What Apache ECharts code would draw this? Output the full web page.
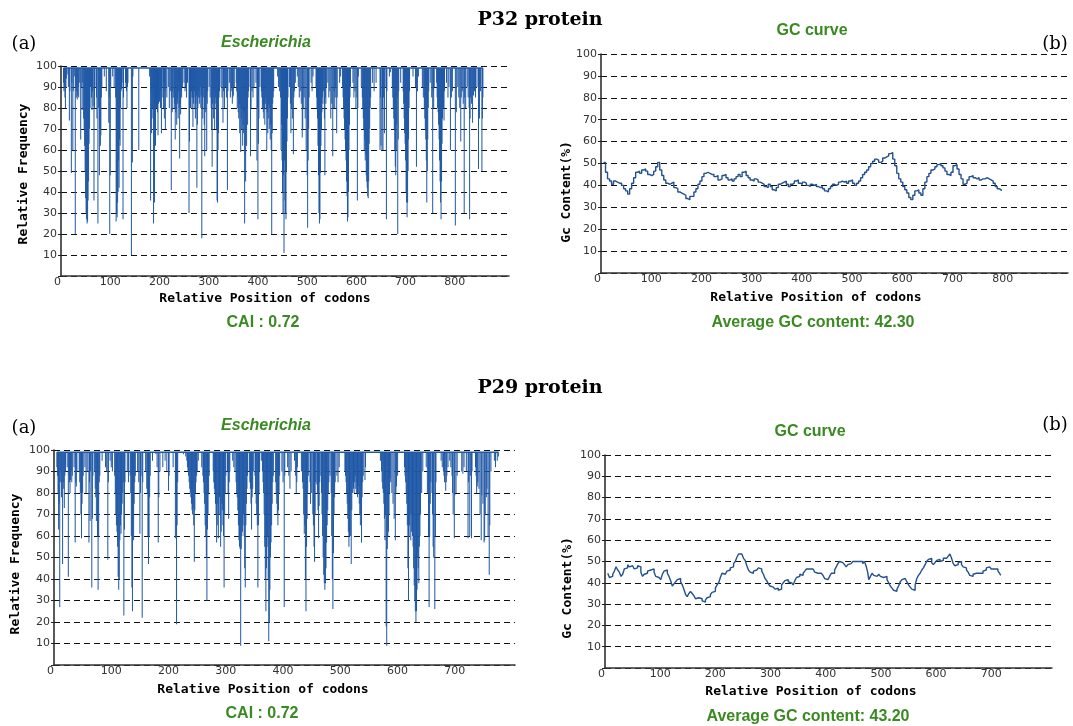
<!DOCTYPE html>
<html>
<head>
<meta charset="utf-8">
<title>P32 / P29 codon usage</title>
<script src="https://cdn.jsdelivr.net/npm/echarts@6.0.0/dist/echarts.min.js"></script>
<style>
html,body{margin:0;padding:0;background:#fff;}
#main{width:1073px;height:726px;}
</style>
</head>
<body>
<div id="main"></div>
<script>
// P32 - relative frequency of codons, [codon, value] (bar hangs from top line down to value)
let p32Bars = [
[5,92],[6,88],[7,90],[8,85],[9,80],[10,90],[11,94],[14,96],[15,90],[17,74],[18,88],[21,49],[22,92],[24,60],[25,88],[27,95],[29,20],[30,90],[31,85],[32,88],[33,84],[34,86],[35,90],[36,85],[38,92],[40,65],[41,90],[43,79],[44,92],
[46,75],[47,70],[48,62],[49,50],[50,37],[51,30],[52,27],[53,25],[54,26],[55,36],[56,45],[57,63],[58,70],[59,80],[60,90],
[62,85],[63,79],[64,88],[65,81],[67,36],[68,80],[69,90],[72,85],[73,75],[75,25],[76,80],[78,48],[79,70],[80,62],[81,67],[82,85],[83,90],[88,95],[92,88],
[97,73],[98,85],[99,20],[100,48],[101,90],[105,95],[108,90],
[111,85],[112,26],[113,30],[114,28],[115,35],[116,40],[117,55],[118,42],[119,65],[120,62],[121,80],[122,88],[123,89],[124,92],[126,27],[127,85],
[131,92],[132,90],[133,88],[134,80],[135,90],[136,92],[143,10],[145,54],[146,95],[158,60],
[180,95],[182,36],[183,88],[184,68],[185,75],[186,80],[187,90],[188,25],[189,80],[190,35],[191,70],[192,62],[193,85],[194,80],[195,88],[196,78],[197,67],[198,82],[199,85],[200,83],[202,80],[203,88],[204,68],[205,90],
[207,85],[208,80],[209,92],[210,75],[211,88],[212,70],[213,90],[215,85],[218,90],[220,80],[222,88],[224,41],[225,85],[226,78],[227,88],
[229,85],[230,80],[231,82],[232,65],[233,78],[234,80],[235,72],[236,85],[237,82],[238,75],[239,88],[240,80],[241,56],[242,82],[243,77],[244,88],[245,85],[247,90],
[250,92],[252,88],[253,90],[255,85],[257,92],
[260,30],[261,64],[262,82],[263,80],[264,85],[265,88],[266,80],[267,85],[268,71],[269,82],[270,85],[271,88],[272,80],[273,75],[274,82],[275,86],[276,42],[277,72],[278,80],[279,85],[280,88],[281,82],[282,85],[283,90],[284,80],[285,86],[286,18],[287,80],[288,75],[289,85],[290,90],[291,72],[292,57],[293,80],[294,78],[295,85],[296,60],[297,82],[298,88],
[301,90],[303,85],[305,80],[306,70],[307,52],[308,82],[309,85],[310,75],[311,88],[312,70],[313,82],[314,85],[315,80],[316,70],[317,36],[318,35],[319,60],[320,68],[321,85],[322,88],
[325,90],[327,85],[329,73],[330,88],[332,80],[334,90],[336,85],[338,41],[339,88],[342,92],[344,85],[346,90],[347,88],[348,82],[349,85],[350,86],[352,90],
[356,92],[357,88],[358,80],[359,85],[360,78],[361,75],[362,82],[363,68],[364,80],[365,59],[366,75],[367,70],[368,80],[369,62],[370,72],[371,68],[372,78],[373,25],[374,58],[375,45],[376,70],[377,62],[378,80],[379,72],[380,85],[381,88],
[384,90],[385,57],[386,80],[388,88],[390,85],[392,90],[396,92],[398,55],[399,80],[400,27],[401,63],[402,75],[404,90],
[407,88],[408,85],[409,80],[410,82],[411,78],[412,75],[413,80],[414,72],[415,82],[416,85],[417,80],[418,60],[419,78],[420,68],[421,75],[422,82],[423,70],[424,80],[425,65],[426,72],[427,60],[428,20],[429,68],[430,82],[431,85],[432,88],
[440,95],[442,90],[444,88],[446,85],[447,60],[448,72],[449,55],[450,40],[451,30],[452,48],[453,11],[454,55],[455,36],[456,30],[457,27],[458,50],[459,64],[460,75],[461,85],
[464,90],[466,82],[467,68],[468,80],[470,75],[472,58],[473,85],[474,88],[476,92],
[480,95],[482,90],[484,85],[486,88],[488,82],[490,66],[491,70],[492,80],[494,85],[496,75],[498,60],[500,48],[501,23],[502,55],[503,70],[504,85],[508,92],[510,88],[512,95],
[518,90],[519,85],[520,80],[521,75],[522,62],[523,48],[524,30],[525,25],[526,27],[527,49],[528,62],[529,70],[530,78],[531,85],[532,82],[533,88],[535,75],[536,48],[537,85],[538,82],[539,90],
[542,92],[544,85],[546,88],[548,75],[550,82],[552,57],[553,80],[555,88],[556,80],[557,85],[558,90],[560,68],[561,85],[566,92],[568,95],
[572,90],[573,85],[574,80],[575,75],[576,70],[577,65],[578,60],[579,55],[580,45],[581,38],[582,26],[583,28],[584,40],[585,60],[586,72],[587,85],[588,90],
[593,92],[595,85],[597,88],[599,80],[601,85],[602,36],[603,80],[604,95],
[610,90],[612,85],[613,80],[614,75],[615,70],[616,60],[617,65],[618,55],[619,58],[620,48],[621,45],[622,42],[623,38],[624,37],[625,45],[626,63],[627,70],[628,80],[629,85],
[633,92],[636,88],[640,92],[648,60],[649,85],[650,62],[652,60],[653,80],[654,60],[655,85],[657,68],[660,90],[661,27],[662,88],[667,95],[669,97],
[673,90],[674,85],[675,80],[676,75],[677,70],[678,60],[679,52],[680,48],[681,60],[682,72],[683,85],[684,20],[685,65],[686,88],[690,92],
[695,88],[696,82],[697,75],[698,68],[699,63],[700,55],[701,40],[702,35],[703,28],[704,35],[705,50],[706,65],[707,80],[708,88],
[715,95],[720,90],[722,52],[724,88],[726,95],
[734,90],[736,85],[738,80],[739,75],[740,70],[741,65],[742,55],[743,35],[744,50],[745,65],[746,80],[747,88],[750,92],[753,85],[755,30],[756,88],[757,80],[758,90],
[763,92],[764,85],[765,80],[766,78],[767,72],[768,65],[769,55],[770,45],[771,35],[772,27],[773,45],[774,63],[775,75],[776,85],[777,80],[778,74],[779,88],
[783,92],[786,85],[788,90],[791,60],[793,85],[795,88],[801,24],[803,78],
[806,90],[808,85],[810,80],[812,64],[813,85],[815,88],[817,82],[819,30],[820,85],[822,80],
[825,90],[827,85],[829,80],[830,27],[831,75],[832,85],[834,82],[836,73],[838,86],[840,88],[842,85],[845,90],[848,51],[850,75],[852,88],[855,50],[856,75],[857,85]
]
let p32Span = [5, 857]

// P29 - relative frequency of codons
let p29Bars = [
[5,92],[6,88],[7,80],[8,63],[9,75],[10,27],[11,85],[12,90],[13,78],[15,47],[16,85],[17,82],[18,73],[19,88],[20,90],
[23,92],[25,41],[26,88],[27,85],[28,80],[29,86],[30,90],[31,85],[32,88],[35,92],[37,57],[38,85],[39,83],[40,90],
[44,90],[45,85],[46,80],[47,70],[48,59],[49,75],[50,80],[51,88],[54,92],[56,80],[58,90],[61,57],[62,85],[63,67],[64,90],[66,36],[67,68],[68,88],
[71,90],[72,82],[73,78],[74,67],[75,80],[76,60],[77,35],[78,60],[79,85],[80,88],[84,95],[90,92],[92,90],[94,49],[95,85],[98,95],[100,92],[102,90],
[106,88],[107,80],[108,70],[109,65],[110,62],[111,55],[112,41],[113,35],[114,40],[115,58],[116,65],[117,61],[118,70],[119,75],[120,80],[121,85],[122,23],[123,63],[124,85],
[128,90],[130,85],[133,88],[134,80],[135,60],[136,36],[137,25],[138,67],[139,58],[140,75],[141,85],[142,88],
[146,90],[148,85],[150,61],[151,80],[152,88],[154,22],[155,85],[160,90],[162,82],[163,80],[164,60],[165,47],[166,60],[167,78],[168,88],
[172,95],[178,98],[180,92],[182,57],[183,78],[185,90],[190,92],[194,95],[197,90],[200,81],[201,88],[208,92],[212,59],[213,80],[214,19],[215,65],[216,85],
[226,98],[230,97],[232,95],[233,92],[234,90],[235,88],[236,85],[237,82],[238,80],[239,78],[240,75],[241,72],[242,70],[243,73],[244,65],[245,48],[246,72],[247,80],[248,85],[249,88],[250,90],[252,95],
[258,92],[260,88],[261,85],[262,80],[263,75],[264,65],[265,60],[266,50],[267,30],[268,63],[269,70],[270,80],[271,88],
[278,90],[279,85],[280,82],[281,80],[282,75],[283,70],[284,57],[285,65],[286,75],[287,59],[288,70],[289,78],[290,70],[291,55],[292,62],[293,75],[294,72],[295,65],[296,60],[297,36],[298,70],[299,80],[300,88],
[303,90],[304,80],[305,68],[306,85],[307,90],
[312,95],[314,92],[316,90],[318,85],[319,80],[320,78],[321,72],[322,65],[323,58],[324,55],[325,54],[326,9],[327,54],[328,60],[329,62],[330,65],[331,70],[332,60],[333,45],[334,36],[335,65],[336,75],[337,82],[338,88],
[341,90],[342,85],[343,82],[344,75],[345,63],[346,78],[347,82],[348,90],[351,88],[352,80],[353,75],[354,70],[355,65],[356,36],[357,65],[358,80],[359,90],
[362,95],[364,90],[365,85],[366,80],[367,70],[368,55],[369,40],[370,25],[371,45],[372,55],[373,60],[374,40],[375,11],[376,20],[377,35],[378,50],[379,57],[380,65],[381,75],[382,85],[383,88],
[387,85],[388,80],[389,75],[390,70],[391,65],[392,72],[393,80],[394,88],[398,90],[400,85],[402,27],[403,88],[408,92],[410,88],[412,82],[414,90],[420,95],[422,88],[423,80],[424,85],[425,92],
[432,90],[434,85],[435,82],[436,70],[437,61],[438,65],[439,40],[440,25],[441,55],[442,68],[443,80],[444,88],
[447,85],[448,75],[450,80],[452,70],[453,65],[454,55],[455,48],[456,70],[457,85],[459,84],[460,80],[461,72],[462,59],[463,74],[464,85],
[466,88],[467,80],[468,70],[469,60],[470,50],[471,42],[472,38],[473,35],[474,38],[475,45],[476,57],[477,65],[478,72],[479,80],[480,85],
[482,88],[484,80],[485,60],[486,40],[487,26],[488,52],[489,70],[490,78],[491,85],[494,88],[496,85],[498,92],
[508,90],[509,88],[510,85],[511,80],[512,75],[513,68],[514,62],[515,55],[516,60],[517,72],[518,60],[519,47],[520,72],[521,80],[522,85],[523,82],[524,80],[525,85],[526,88],[527,82],[528,80],[529,85],[530,78],[531,83],[532,80],[533,75],[534,70],[535,65],[536,70],[537,57],[538,78],[539,85],[540,88],
[543,86],[544,92],
[570,95],[572,90],[573,85],[574,82],[575,80],[576,75],[577,68],[578,58],[579,70],[580,18],[581,9],[582,54],[583,60],[584,62],[585,70],[586,80],[587,87],[588,85],[590,80],[592,75],[594,68],[596,58],[597,80],[598,83],[600,88],
[612,92],[613,88],[614,85],[615,80],[616,75],[617,65],[618,45],[619,30],[620,60],[621,65],[622,70],[623,58],[624,62],[625,70],[626,60],[627,55],[628,45],[629,37],[630,30],[631,25],[632,20],[633,25],[634,35],[635,50],[636,45],[637,38],[638,55],[639,60],[640,70],[642,80],[644,90],
[650,92],[652,80],[654,60],[655,27],[656,60],[657,75],[658,85],[660,80],[661,70],[662,55],[663,50],[665,26],[666,60],[667,85],
[676,95],[678,92],[680,90],[681,88],[682,85],[684,81],[685,85],[686,88],[688,92],
[691,95],[693,92],[695,88],[696,80],[697,70],[699,59],[700,79],[702,80],[704,88],[712,90],[714,89],[716,92],
[720,90],[723,59],[724,85],[726,60],[727,88],[729,59],[730,90],
[736,92],[737,88],[738,80],[739,83],[740,85],[742,82],[744,70],[746,58],[747,79],[749,75],[751,57],[752,58],[753,70],[755,78],[756,82],[758,60],[760,42],[761,65],[763,90],
[769,95],[771,92],[774,95],[776,97]
]
let p29Span = [5, 776]

// GC curve P32, [codon, GC%]
let gc32 = [
[5,50.5],[9,46],[13,43],[17,42],[21,40.5],[25,42],[29,41.5],[33,41],[37,41],[41,40],[45,38.5],[49,37.5],[53,36],[57,38.5],[61,41],[65,43.5],[69,46],[73,46.5],[77,45.5],[81,47],[85,47.5],[89,46.5],[93,45],[97,44.5],
[101,45],[105,46.5],[109,48.5],[113,50.5],[117,47],[121,44.5],[125,42.5],[129,41],[133,40.5],[137,41],[141,41.5],[145,39],[149,38.5],[153,37],[157,36.5],[161,36],[165,35.5],[169,34],[173,33.5],[177,35],[181,35],[185,37],[189,38.5],[193,40.5],[197,42],
[201,44],[205,45.5],[209,46],[213,45.5],[217,45],[221,45],[225,44],[229,44.5],[233,42.5],[237,43],[241,44.5],[245,45],[249,43.5],[253,42.5],[257,43],[261,42],[265,43],[269,44],[273,45],[277,44],[281,46],[285,46.5],[289,44.5],[293,43.5],[297,42.5],
[301,42],[305,43],[309,42.5],[313,41.5],[317,41],[321,40.5],[325,39.5],[329,39],[333,40.5],[337,39.5],[341,38],[345,37.5],[349,39],[353,40.5],[357,41],[361,41.5],[365,42],[369,40.5],[373,39.5],[377,40.5],[381,41],[385,42],[389,42.5],[393,41],[397,40.5],
[401,41.5],[405,41],[409,40],[413,39.5],[417,40.5],[421,40],[425,40.5],[429,39.5],[433,39],[437,39.5],[441,38.5],[445,37.5],[449,37],[453,38.5],[457,39.5],[461,40.5],[465,40],[469,40.5],[473,41.5],[477,42],[481,41.5],[485,42],[489,41],[493,42],[497,42.5],
[501,41],[505,40],[509,41],[513,42],[517,43.5],[521,45],[525,46],[529,47],[533,48.5],[537,50],[541,51],[545,52],[549,51.5],[553,50.5],[557,51],[561,52.5],[565,53],[569,53.5],[573,54.5],[577,55],[581,52],[585,49],[589,45.5],[593,43],[597,41.5],
[601,39.5],[605,38],[609,36.5],[613,34.5],[617,33.5],[621,35.5],[625,37.5],[629,38],[633,36.5],[637,35.5],[641,38.5],[645,41.5],[649,44],[653,45.5],[657,47],[661,47.5],[665,48.5],[669,49.5],[673,50],[677,49],[681,48],[685,46.5],[689,45],[693,44.5],[697,46],
[701,49],[705,49.5],[709,47.5],[713,45],[717,43],[721,40.5],[725,41],[729,42.5],[733,44],[737,44.5],[741,43.5],[745,43],[749,43.5],[753,42.5],[757,43],[761,43],[765,43.5],[769,43],[773,42.5],[777,42],[781,41],[785,39.5],[789,38.5],[793,38],[797,37.5]
]

// GC curve P29
let gc29 = [
[5,44.5],[8,42.5],[11,43],[14,44],[17,45.5],[20,47.5],[23,46],[26,45],[29,43],[32,44],[35,46.5],[38,47],[41,48.5],[44,47.5],[47,48],[50,47.5],[53,46.5],[56,47],[59,48],[62,47.5],[65,45],[68,43],[71,44],[74,44.5],[77,45.5],[80,46],[83,45.5],[86,46.5],[89,45],[92,43],[95,42.5],[98,42],
[101,41.5],[104,44],[107,45.5],[110,46],[113,44.5],[116,43],[119,41],[122,38.5],[125,39.5],[128,40.5],[131,41.5],[134,42],[137,40.5],[140,39],[143,37],[146,34.5],[149,33.5],[152,35],[155,36],[158,35],[161,34],[164,32.5],[167,33],[170,33.5],[173,32.5],[176,31.5],[179,31],[182,32],[185,33],[188,33.5],[191,34.5],[194,35.5],[197,36],
[200,37.5],[203,39],[206,40],[209,42.5],[212,44.5],[215,44],[218,43.5],[221,45.5],[224,46],[227,47],[230,47.5],[233,49],[236,50],[239,52],[242,53.5],[245,53.5],[248,53],[251,51.5],[254,50.5],[257,48],[260,46],[263,45],[266,44.5],[269,45.5],[272,46],[275,46.5],[278,47],[281,46.5],[284,45.5],[287,44],[290,42],[293,41],[296,39.5],[299,38.5],
[302,38],[305,37.5],[308,37],[311,37.5],[314,36.5],[317,37],[320,39],[323,40],[326,41],[329,41.5],[332,40.5],[335,40],[338,39.5],[341,39],[344,41],[347,42.5],[350,43],[353,44],[356,43.5],[359,44.5],[362,45.5],[365,46.5],[368,46.5],[371,47],[374,46.5],[377,46],[380,45],[383,44.5],[386,45],[389,44.5],[392,44],[395,43.5],[398,42],
[401,41.5],[404,42],[407,43],[410,44.5],[413,44.5],[416,46],[419,47.5],[422,49],[425,50],[428,49.5],[431,49.5],[434,48.5],[437,47.5],[440,48.5],[443,49],[446,49.5],[449,50],[452,50],[455,49.5],[458,50],[461,50],[464,50],[467,49],[470,50],[473,48],[476,45],[478,41.5],[481,43],[484,44.5],[487,43.5],[490,43],[493,43.5],[496,44],[499,43],
[502,42.5],[505,42.5],[508,43],[511,41.5],[514,40],[517,38.5],[520,37.5],[523,36.5],[526,36],[529,37],[532,38.5],[535,40.5],[538,41.5],[541,42],[544,41.5],[547,40.5],[550,39],[553,38],[556,37],[559,36.5],[562,39],[565,42],[568,43.5],[571,44.5],[574,46],[577,47],[580,48.5],[583,50],[586,51],[589,51.5],[592,49.5],[595,48.5],[598,49.5],
[601,50.5],[604,51],[607,50],[610,50.5],[613,51.5],[616,51.5],[619,52],[622,52.5],[625,53.5],[628,51.5],[631,49],[634,48],[637,48.5],[640,49.5],[643,50],[646,48.5],[649,47.5],[652,47],[655,46],[658,45],[661,43.5],[664,43],[667,44],[670,44.5],[673,45],[676,44.5],[679,44],[682,44.5],[685,45.5],[688,46],[691,47],[694,47.5],[697,47],
[700,46.5],[703,46.5],[706,46],[709,46.5],[712,45.5],[715,44.5],[717,43.5]
]

let topLine = 99
let xMax = [910, 930, 805, 810]
// last labelled tick of each x axis
let xLastLabel = [800, 800, 700, 700]
let barColor = '#1f58a6'
let gcColor = '#23518e'
let green = '#3a8a22'

let mainChart = echarts.init(document.getElementById('main'))

// bars hanging from the top line down to the value
function hangBar(params, api){
    let x = api.value(0), v = api.value(1)
    let low = api.coord([x, v])
    let high = api.coord([x, topLine])
    let w = Math.max(1, api.size([1, 0])[0])
    return {
        type: 'rect',
        shape: {x: low[0] - w / 2, y: high[1], width: w, height: low[1] - high[1]},
        style: {fill: barColor}
    }
}

function xAxisOf(i){
    return {
        type: 'value',
        gridIndex: i,
        min: 0,
        max: xMax[i],
        interval: 100,
        axisLine: {lineStyle: {color: '#333', width: 1.5}},
        axisTick: {show: false},
        splitLine: {show: false},
        axisLabel: {
            color: '#333',
            fontFamily: 'DejaVu Sans',
            fontSize: 11,
            margin: 1,
            alignMinLabel: 'right',
            showMaxLabel: false,
            formatter: function(v){ return v > xLastLabel[i] ? '' : v }
        }
    }
}

function yAxisOf(i){
    return {
        type: 'value',
        gridIndex: i,
        min: 0,
        max: 100,
        interval: 10,
        axisLine: {show: true, lineStyle: {color: '#222', width: 1.5}},
        axisTick: {show: true, length: 3, lineStyle: {color: '#222'}},
        axisLabel: {
            color: '#333',
            fontFamily: 'DejaVu Sans',
            fontSize: 11,
            margin: 4,
            formatter: function(v){ return v == 0 ? '' : v }
        },
        splitLine: {lineStyle: {color: '#111', type: [6, 4], width: 1.2}}
    }
}

function txt(text, x, y, font, color, rot){
    return {
        type: 'text',
        x: x,
        y: y,
        rotation: rot || 0,
        style: {text: text, font: font, fill: color || '#000', align: 'center', verticalAlign: 'middle'}
    }
}

let serifBold = 'bold 19px "DejaVu Serif"'
let serif = '18px "DejaVu Serif"'
let greenFont = 'bold 16px "Liberation Sans"'
let greenItalic = 'italic bold 16px "Liberation Sans"'
let mono = 'bold 13px "DejaVu Sans Mono"'

let mainOption = {
    animation: false,
    backgroundColor: '#fff',
    grid: [
        {left: 61, top: 66, width: 448, height: 210},
        {left: 601, top: 54, width: 467, height: 219},
        {left: 54, top: 450, width: 461, height: 215},
        {left: 605, top: 455, width: 447, height: 213}
    ],
    xAxis: [xAxisOf(0), xAxisOf(1), xAxisOf(2), xAxisOf(3)],
    yAxis: [yAxisOf(0), yAxisOf(1), yAxisOf(2), yAxisOf(3)],
    series: [
        {
            type: 'custom',
            xAxisIndex: 0,
            yAxisIndex: 0,
            renderItem: hangBar,
            clip: true,
            data: p32Bars
        },
        {
            type: 'line',
            xAxisIndex: 0,
            yAxisIndex: 0,
            symbol: 'none',
            lineStyle: {color: barColor, width: 1.5},
            data: [[p32Span[0], topLine], [p32Span[1], topLine]]
        },
        {
            type: 'line',
            xAxisIndex: 1,
            yAxisIndex: 1,
            symbol: 'none',
            step: 'end',
            lineStyle: {color: gcColor, width: 1.4},
            data: gc32
        },
        {
            type: 'custom',
            xAxisIndex: 2,
            yAxisIndex: 2,
            renderItem: hangBar,
            clip: true,
            data: p29Bars
        },
        {
            type: 'line',
            xAxisIndex: 2,
            yAxisIndex: 2,
            symbol: 'none',
            lineStyle: {color: barColor, width: 1.5},
            data: [[p29Span[0], topLine], [p29Span[1], topLine]]
        },
        {
            type: 'line',
            xAxisIndex: 3,
            yAxisIndex: 3,
            symbol: 'none',
            step: 'end',
            lineStyle: {color: gcColor, width: 1.4},
            data: gc29
        }
    ],
    graphic: [
        // P32
        txt('P32 protein', 540, 20, serifBold),
        txt('(a)', 24, 44, serif),
        txt('(b)', 1055, 44, serif),
        txt('Escherichia', 266, 43, greenItalic, green),
        txt('CAI : 0.72', 263, 323, greenFont, green),
        txt('Relative Position of codons', 265, 299, mono),
        txt('Relative Frequency', 24, 174, mono, '#000', Math.PI / 2),
        txt('GC curve', 812, 31, greenFont, green),
        txt('Average GC content: 42.30', 813, 323, greenFont, green),
        txt('Relative Position of codons', 816, 298, mono),
        txt('Gc Content(%)', 567, 192, mono, '#000', Math.PI / 2),
        // P29
        txt('P29 protein', 540, 388, serifBold),
        txt('(a)', 24, 428, serif),
        txt('(b)', 1055, 425, serif),
        txt('Escherichia', 266, 426, greenItalic, green),
        txt('CAI : 0.72', 262, 714, greenFont, green),
        txt('Relative Position of codons', 263, 690, mono),
        txt('Relative Frequency', 16, 564, mono, '#000', Math.PI / 2),
        txt('GC curve', 810, 432, greenFont, green),
        txt('Average GC content: 43.20', 808, 717, greenFont, green),
        txt('Relative Position of codons', 811, 692, mono),
        txt('Gc Content(%)', 568, 588, mono, '#000', Math.PI / 2)
    ]
}

mainChart.setOption(mainOption)
</script>
</body>
</html>
